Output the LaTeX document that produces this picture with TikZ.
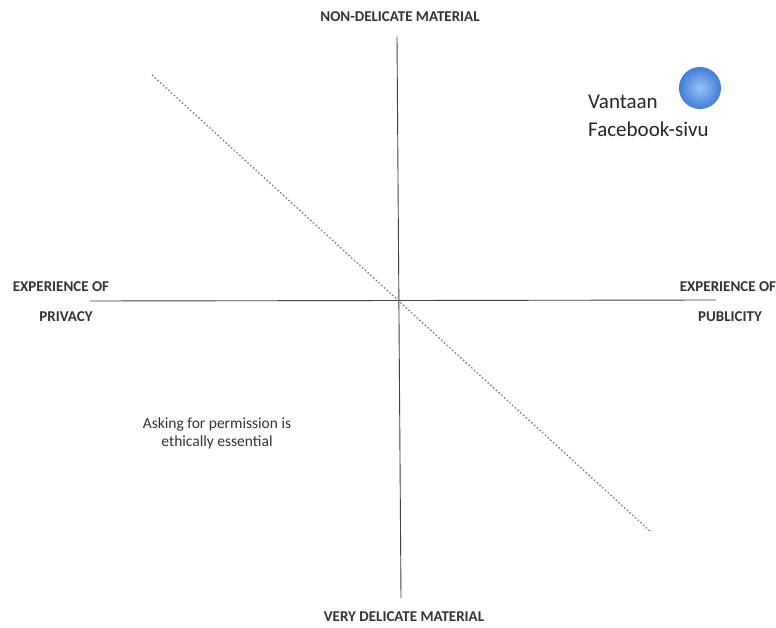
\documentclass[tikz,border=0pt]{standalone}
\usepackage{fontspec}
\setmainfont{Carlito}
\usetikzlibrary{calc,shadings}

\tikzset{
  axislabel/.style={font=\bfseries\fontsize{15}{18}\selectfont,text=black!80,inner sep=0pt},
  axisline/.style={black!75,line width=0.9pt},
  splitline/.style={black!55,line width=1.2pt,dash pattern=on 1.5pt off 2.2pt},
}

\begin{document}
\begin{tikzpicture}[x=1pt,y=-1pt]
            \useasboundingbox (0,0) rectangle (776,628);

            \coordinate (top) at (397,37);
            \coordinate (bottom) at (401,598);
            \coordinate (left) at (90,301);
            \coordinate (right) at (716,300);
            \coordinate (diagstart) at (152,75);
            \coordinate (diagend) at (651,532);

            \draw[axisline] (top) -- (bottom);
            \draw[axisline] (left) -- (right);
            \draw[splitline] (diagstart) -- (diagend);

            \node[axislabel] (nondel) at (400,17){NON-DELICATE MATERIAL};
            \node[axislabel] (verydel) at (404,617){VERY DELICATE MATERIAL};

            \node[axislabel] (privA) at (61,287){EXPERIENCE OF};
            \node[axislabel] (privB) at (66,317){PRIVACY};
            \node[axislabel] (publA) at (728,287){EXPERIENCE OF};
            \node[axislabel] (publB) at (730,317){PUBLICITY};

            \node[font=\fontsize{15.5}{18}\selectfont,align=center,text=black!80,inner sep=0pt] (asking) at (217,433){Asking for permission is\\ethically essential};

            \node[font=\fontsize{21}{28}\selectfont,align=left,anchor=north west,text=black!85,inner sep=0pt] (vantaan) at (588,95){Vantaan\\Facebook-sivu};

            \shade[inner color={rgb,255:red,150;green,195;blue,250},outer color={rgb,255:red,65;green,125;blue,215}] (700,88) circle (21);
\end{tikzpicture}
\end{document}
